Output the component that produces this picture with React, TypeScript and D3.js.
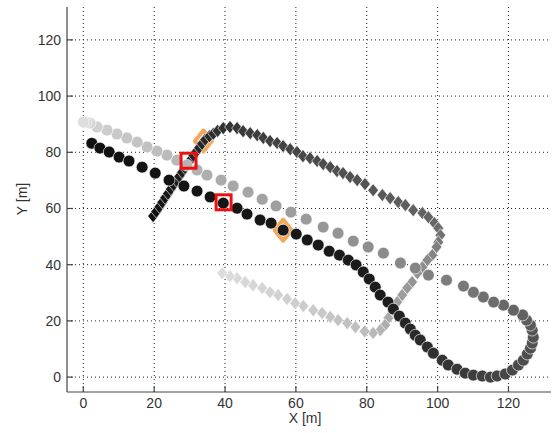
import * as d3 from "d3";

// circle track (black start -> light end)
const circleX = [
  2.4, 4.7, 7.3, 10.1, 12.9, 16.6, 20.3, 24.2, 28.4, 32.1, 35.8, 39.5, 43.4, 46.2, 49.9, 53.0, 56.4, 60.1, 63.2, 66.3,
  69.4, 72.3, 74.8, 77.0, 79.0, 80.7, 82.4, 83.8, 86.0, 87.5, 89.2, 90.9, 92.3, 93.7, 95.1, 97.1, 98.8, 101.3, 103.0, 105.5,
  107.8, 110.1, 112.6, 114.9, 116.8, 119.1, 121.1, 122.8, 124.2, 125.3, 126.2, 126.7, 127.0, 126.7, 126.2, 125.1, 124.0, 121.4, 118.6, 115.8,
  112.9, 110.1, 107.3, 102.5, 97.4, 93.7, 89.5, 84.7, 80.4, 76.2, 71.9, 67.7, 62.9, 58.6, 54.4, 50.5, 46.5, 42.3, 38.9, 34.9,
  32.1, 29.2, 26.4, 23.6, 20.8, 18.0, 15.2, 12.3, 9.5, 6.7, 3.9, 1.9, 0.8, 0.0,
];
const circleY = [
  83.2, 81.5, 80.1, 78.3, 76.9, 74.7, 72.6, 70.1, 68.0, 66.2, 64.1, 61.9, 60.1, 58.0, 55.9, 54.8, 52.3, 50.9, 48.8, 47.0,
  44.8, 43.4, 41.6, 39.9, 37.4, 34.9, 32.0, 29.2, 26.7, 24.2, 21.7, 19.2, 17.1, 14.9, 13.2, 10.7, 8.5, 6.0, 4.3, 2.8,
  1.4, 0.7, 0.4, 0.0, 0.4, 1.1, 2.5, 4.3, 6.0, 8.2, 10.3, 12.1, 14.2, 16.7, 18.5, 20.3, 22.1, 23.8, 25.6, 26.7,
  28.5, 30.2, 32.4, 34.5, 36.3, 38.8, 40.6, 44.1, 46.3, 48.4, 51.2, 53.4, 56.2, 58.7, 60.9, 63.3, 65.8, 68.0, 70.1, 71.9,
  73.7, 75.4, 77.2, 79.0, 80.4, 81.9, 83.6, 85.1, 86.5, 87.9, 89.0, 90.4, 90.7, 90.8,
];

// diamond track (black start -> light end)
const diamondX = [
  19.7, 20.6, 21.5, 22.3, 23.1, 23.9, 24.7, 25.5, 26.3, 27.1, 27.9, 28.7, 29.5, 30.3, 31.1, 31.9, 32.7, 33.5, 34.4, 35.6,
  36.7, 37.9, 39.5, 41.4, 43.4, 45.1, 47.1, 49.1, 50.8, 52.7, 54.7, 56.4, 58.4, 60.3, 62.0, 64.0, 66.0, 67.7, 69.7, 71.6,
  73.3, 75.3, 77.3, 79.5, 81.8, 84.4, 86.6, 88.9, 90.9, 93.1, 95.7, 97.4, 99.1, 100.2, 100.8, 100.2, 99.7, 98.5, 97.1, 95.7,
  94.3, 92.8, 91.4, 90.0, 88.6, 87.2, 86.1, 85.2, 83.8, 81.8, 79.4, 76.8, 74.5, 71.9, 69.7, 67.4, 64.9, 62.1, 59.8, 57.5,
  55.0, 52.7, 50.5, 47.9, 45.7, 43.4, 41.4, 39.2,
];
const diamondY = [
  57.3, 58.9, 60.6, 62.2, 63.8, 65.3, 66.9, 68.4, 69.9, 71.4, 72.9, 74.4, 75.9, 77.3, 78.8, 80.2, 81.6, 83.0, 84.5, 85.7,
  86.6, 87.6, 88.6, 89.0, 88.6, 87.5, 86.8, 86.1, 85.1, 84.0, 83.3, 82.2, 81.1, 80.1, 78.6, 77.9, 76.9, 75.8, 74.7, 73.3,
  72.6, 71.2, 70.1, 68.7, 66.5, 64.8, 63.7, 62.3, 61.2, 59.4, 58.4, 56.9, 54.8, 53.0, 50.5, 48.0, 46.3, 43.4, 41.6, 39.1,
  37.0, 33.8, 31.7, 29.2, 26.7, 23.8, 21.0, 18.5, 16.7, 15.7, 16.3, 17.8, 19.2, 20.3, 21.4, 22.8, 23.8, 25.3, 26.3, 27.8,
  29.2, 30.2, 31.7, 32.7, 33.8, 35.2, 35.9, 37.0,
];

const squareX = [29.7, 39.6];
const squareY = [77.0, 62.2];
const orangeX = [33.9, 56.4];
const orangeY = [84.0, 52.3];

const xTicks = [0, 20, 40, 60, 80, 100, 120];
const yTicks = [0, 20, 40, 60, 80, 100, 120];

// grey levels along each track (fraction of track -> colour)
const circleStops = [0, 0.29, 0.4, 0.47, 0.57, 0.64, 0.7, 0.77, 0.83, 0.9, 0.96, 1];
const circleGreys = ["#111", "#1c1c1c", "#333", "#444", "#555", "#6e6e6e", "#858585", "#999", "#a8a8a8", "#bdbdbd", "#cdcdcd", "#dedede"];
const diamondStops = [0, 0.22, 0.3, 0.5, 0.6, 0.66, 0.75, 0.8, 0.9, 1];
const diamondGreys = ["#111", "#2a2a2a", "#3c3c3c", "#555", "#666", "#888", "#a5a5a5", "#bcbcbc", "#cfcfcf", "#dcdcdc"];

const W = 553;
const H = 433;
const font = "'Liberation Sans', Arial, sans-serif";

export default function App() {
  const x = d3.scaleLinear().domain([-4.6, 132]).range([67, 551]);
  const y = d3.scaleLinear().domain([-5.3, 131.7]).range([392, 7]);

  const cColor = d3.scaleLinear<string>().domain(circleStops).range(circleGreys).interpolate(d3.interpolateRgb);
  const dColor = d3.scaleLinear<string>().domain(diamondStops).range(diamondGreys).interpolate(d3.interpolateRgb);

  const diamondPath = (cx: number, cy: number, hw: number, hh: number) =>
    `M${cx},${cy - hh}L${cx + hw},${cy}L${cx},${cy + hh}L${cx - hw},${cy}Z`;

  const [x0, x1] = x.range();
  const [y0, y1] = y.range();

  return (
    <svg width={W} height={H} style={{ display: "block", background: "#fff" }}>
      <style>{`body{margin:0}`}</style>
      {/* grid */}
      <g stroke="#222" strokeWidth={1} strokeDasharray="1,3">
        {xTicks.map((t) => (
          <line key={"gx" + t} x1={x(t)} x2={x(t)} y1={y0} y2={y1} />
        ))}
        {yTicks.map((t) => (
          <line key={"gy" + t} x1={x0} x2={x1} y1={y(t)} y2={y(t)} />
        ))}
      </g>

      {/* orange markers under tracks */}
      {orangeX.map((v, i) => (
        <path key={"o" + i} d={diamondPath(x(v), y(orangeY[i]), 8.5, 10.5)} fill="none" stroke="#f6a658" strokeWidth={4} strokeLinejoin="round" />
      ))}

      {/* diamond track */}
      {diamondX.map((v, i) => (
        <path
          key={"d" + i}
          d={diamondPath(x(v), y(diamondY[i]), 5.4, 6.6)}
          fill={dColor(i / (diamondX.length - 1))}
          stroke="#fff"
          strokeOpacity={0.7}
          strokeWidth={0.9}
        />
      ))}

      {/* circle track */}
      {circleX.map((v, i) => (
        <circle
          key={"c" + i}
          cx={x(v)}
          cy={y(circleY[i])}
          r={5.9}
          fill={cColor(i / (circleX.length - 1))}
          stroke="#fff"
          strokeOpacity={0.7}
          strokeWidth={0.9}
        />
      ))}

      {/* red squares */}
      {squareX.map((v, i) => (
        <rect key={"s" + i} x={x(v) - 7.5} y={y(squareY[i]) - 7.5} width={15} height={15} fill="none" stroke="#ee1010" strokeWidth={3} />
      ))}

      {/* axes */}
      <g stroke="#444" strokeWidth={1.2} fill="none">
        <line x1={x0} x2={x0} y1={y0} y2={y1} />
        <line x1={x0} x2={x1} y1={y0} y2={y0} />
        {xTicks.map((t) => (
          <line key={"tx" + t} x1={x(t)} x2={x(t)} y1={y0} y2={y0 - 6} />
        ))}
        {yTicks.map((t) => (
          <line key={"ty" + t} x1={x0} x2={x0 + 6} y1={y(t)} y2={y(t)} />
        ))}
      </g>

      <g fontFamily={font} fontSize={14} fill="#333">
        {xTicks.map((t) => (
          <text key={"lx" + t} x={x(t)} y={408} textAnchor="middle">
            {t}
          </text>
        ))}
        {yTicks.map((t) => (
          <text key={"ly" + t} x={61} y={y(t) + 5} textAnchor="end">
            {t}
          </text>
        ))}
        <text x={305} y={423} textAnchor="middle">X [m]</text>
        <text transform="translate(27,199) rotate(-90)" textAnchor="middle">Y [m]</text>
      </g>
    </svg>
  );
}
